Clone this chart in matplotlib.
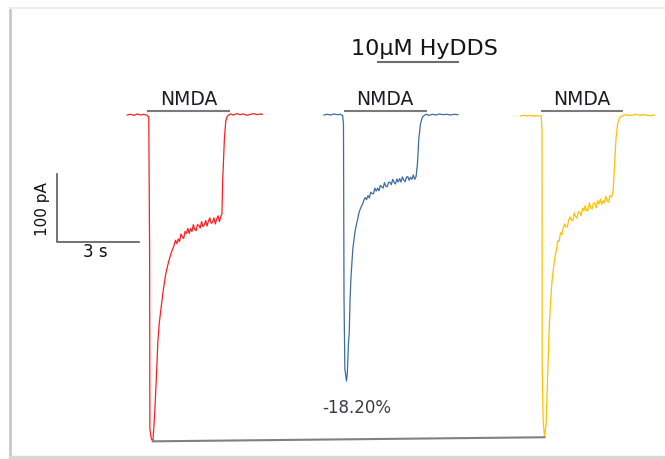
import matplotlib
matplotlib.use("Agg")
import matplotlib.pyplot as plt
from matplotlib.lines import Line2D
import numpy as np

# --- data (time in s from start of each sweep, current in pA) ---
red_t = [0.00, 0.12, 0.25, 0.36, 0.48, 0.60, 0.72, 0.78, 0.81, 0.82, 0.87, 0.93, 0.96,
         0.99, 1.02, 1.07, 1.11, 1.16, 1.23, 1.32, 1.40, 1.50, 1.60, 1.68,
         1.75, 1.80, 1.85, 1.90, 1.95, 2.00, 2.05, 2.10, 2.15, 2.20, 2.25, 2.30,
         2.35, 2.40, 2.45, 2.50, 2.55, 2.60, 2.65, 2.70, 2.75, 2.80, 2.85, 2.90,
         2.95, 3.00, 3.05, 3.10, 3.15, 3.20, 3.25, 3.30, 3.35, 3.40, 3.44,
         3.47, 3.53, 3.58, 3.64, 3.75, 3.86, 3.98, 4.10, 4.22, 4.35, 4.48, 4.60,
         4.72, 4.85, 4.91]
red_i = [0, 1, -0.5, 1.5, 0, 1, -0.5, -3, -198, -464, -478, -482, -464,
         -445, -420, -375, -335, -308, -284, -255, -234, -217, -203, -195,
         -185, -190, -183, -187, -176, -180, -182.5, -172, -175, -167.5, -175, -168,
         -172, -162, -169, -171, -162, -163, -167, -157.5, -165, -162, -156, -164,
         -156.5, -152, -160, -158.5, -152, -161, -153.5, -149, -157.5, -150, -146,
         -95, -35, -9, -1.5, 1.5, 0, 2, 0.5, 1.5, -0.5, 1, 2,
         0.5, 1.5, 1]

blue_t = [0.00, 0.12, 0.25, 0.36, 0.48, 0.60, 0.68, 0.71, 0.73, 0.76, 0.82, 0.85, 0.89,
          0.92, 0.95, 0.98, 1.02, 1.05, 1.09, 1.13, 1.18, 1.22, 1.27, 1.31, 1.36,
          1.41, 1.45,
          1.50, 1.55, 1.60, 1.65, 1.70, 1.75, 1.80, 1.85, 1.90, 1.95, 2.00, 2.05,
          2.10, 2.15, 2.20, 2.25, 2.30, 2.35, 2.40, 2.45, 2.50, 2.55, 2.60, 2.65,
          2.70, 2.75, 2.80, 2.85, 2.90, 2.95, 3.00, 3.05, 3.10, 3.15, 3.20, 3.25,
          3.30, 3.35, 3.40, 3.45, 3.51, 3.58, 3.70, 3.82, 3.95, 4.08, 4.20, 4.33,
          4.46, 4.60, 4.73, 4.87]
blue_i = [0, 1, 0, 1.5, 0.5, 1, -1, -13, -272, -375, -393, -382, -338,
          -321, -272, -242, -216, -198, -185, -172, -162, -155, -145, -140, -135,
          -131, -126,
          -122, -125, -119, -122.5, -114, -116, -116.5, -108, -112.5, -108, -112, -104,
          -106, -108, -100, -105, -106, -99.5, -99.5, -103, -95, -99.5, -102, -94.5,
          -99, -94, -99, -91.5, -96, -98.5, -92, -91, -96.5, -92, -95, -88.5,
          -95, -91, -72, -35, -13, -3, 1, -0.5, 1, 0, 1.5, 0.5,
          1, 0, 1, 0.5]

yellow_t = [0.00, 0.12, 0.25, 0.36, 0.48, 0.60, 0.75, 0.78, 0.785, 0.82, 0.87, 0.93, 0.97,
            1.01, 1.05, 1.10, 1.14, 1.20, 1.26, 1.31,
            1.35, 1.40, 1.45, 1.50, 1.55, 1.60, 1.65, 1.70, 1.75, 1.80, 1.85, 1.90,
            1.95, 2.00, 2.05, 2.10, 2.15, 2.20, 2.25, 2.30, 2.35, 2.40, 2.45, 2.50,
            2.55, 2.60, 2.65, 2.70, 2.75, 2.80, 2.85, 2.90, 2.95, 3.00, 3.05, 3.10,
            3.15, 3.20, 3.25, 3.30, 3.34,
            3.37, 3.42, 3.47, 3.53, 3.60, 3.71, 3.83, 3.95, 4.08, 4.20, 4.33, 4.46,
            4.60, 4.73, 4.87]
yellow_i = [-1.5, -0.5, -1.5, -0.5, -2, -1, -1.5, -21, -365, -449, -476, -456, -405,
            -353, -306, -272, -247, -225, -208, -198,
            -186, -187, -174, -177, -167, -161, -165, -165.5, -155, -150.5, -155.5, -156,
            -144.5, -150, -152.5, -143, -143.5, -149, -137.5, -142, -134, -141, -141, -130,
            -136, -139, -130, -130, -137, -126.5, -131.5, -124, -132, -126.5, -129.5, -120,
            -127, -129, -119, -121, -117,
            -109, -72, -35, -13, -4, -1, 0.5, -1, 0, 1, -0.5, 0.5,
            -0.5, -1, 0]

sweep_start = [4.63, 11.78, 18.93]   # s, where each sweep is drawn
nmda_on = 0.73                       # s after sweep start
nmda_dur = 3.0                       # s
labels = ["NMDA", "NMDA", "NMDA"]
colors = ["#ff1e1e", "#3d6ca3", "#ffc000"]

traces = [(red_t, red_i), (blue_t, blue_i), (yellow_t, yellow_i)]

fig = plt.figure(figsize=(6.65, 4.6), dpi=100)
fig.patch.set_facecolor("white")
ax = fig.add_axes([0, 0, 1, 1])
ax.set_xlim(0, 665 / 27.5)
ax.set_ylim(-508.1, 171.3)
ax.axis("off")

font = "DejaVu Sans"
peaks = []
for (t, i), x0, c, lab in zip(traces, sweep_start, colors, labels):
    t = np.array(t) + x0
    i = np.array(i)
    ax.plot(t, i, color=c, lw=0.9)
    k = np.argmin(i)
    peaks.append((t[k], i[k]))
    # NMDA application bar
    ax.plot([x0 + nmda_on, x0 + nmda_on + nmda_dur], [6.6, 6.6], color="#7a7a7a", lw=1.5,
            solid_capstyle="butt")
    ax.text(x0 + nmda_on + nmda_dur / 2, 25, lab, ha="center", va="center",
            fontsize=13.5, family=font, color="#1c1c28")

# line joining control peak and washout peak
ax.plot([peaks[0][0], peaks[2][0]], [peaks[0][1], peaks[2][1]], color="#808080", lw=1.5)

# HyDDS label
ax.text(15.42, 99.3, "10\u03bcM HyDDS", ha="center", va="center", fontsize=16,
        family=font, color="#151515")
ax.plot([13.71, 16.69], [78.7, 78.7], color="#6e6e6e", lw=1.5, solid_capstyle="butt")

ax.text(12.98, -431, "-18.20%", ha="center", va="center", fontsize=12,
        family=font, color="#3a3a44")

# scale bar
sb_x, sb_y = 2.06, -187.2
ax.plot([sb_x, sb_x, sb_x + 3], [sb_y + 100, sb_y, sb_y], color="#5a5a5a", lw=1.2)
ax.text(1.56, -137.4, "100 pA", rotation=90, ha="center", va="center", fontsize=11,
        family=font, color="#111111")
ax.text(3.45, -200.4, "3 s", ha="center", va="center", fontsize=12,
        family=font, color="#111111")

# frame shadow of the original screenshot
W, H = 665.0, 460.0
fig.add_artist(Line2D([9.5 / W, 9.5 / W], [0, 1 - 10 / H], color="#c4c4c4", lw=1.8,
                      transform=fig.transFigure))
fig.add_artist(Line2D([10 / W, 1], [1 - 8.5 / H, 1 - 8.5 / H], color="#ececec", lw=1.5,
                      transform=fig.transFigure))
fig.add_artist(Line2D([10 / W, 1], [1.8 / H, 1.8 / H], color="#d6d6d6", lw=2.5,
                      transform=fig.transFigure))

fig.savefig("out.png", dpi=100, facecolor="white")
